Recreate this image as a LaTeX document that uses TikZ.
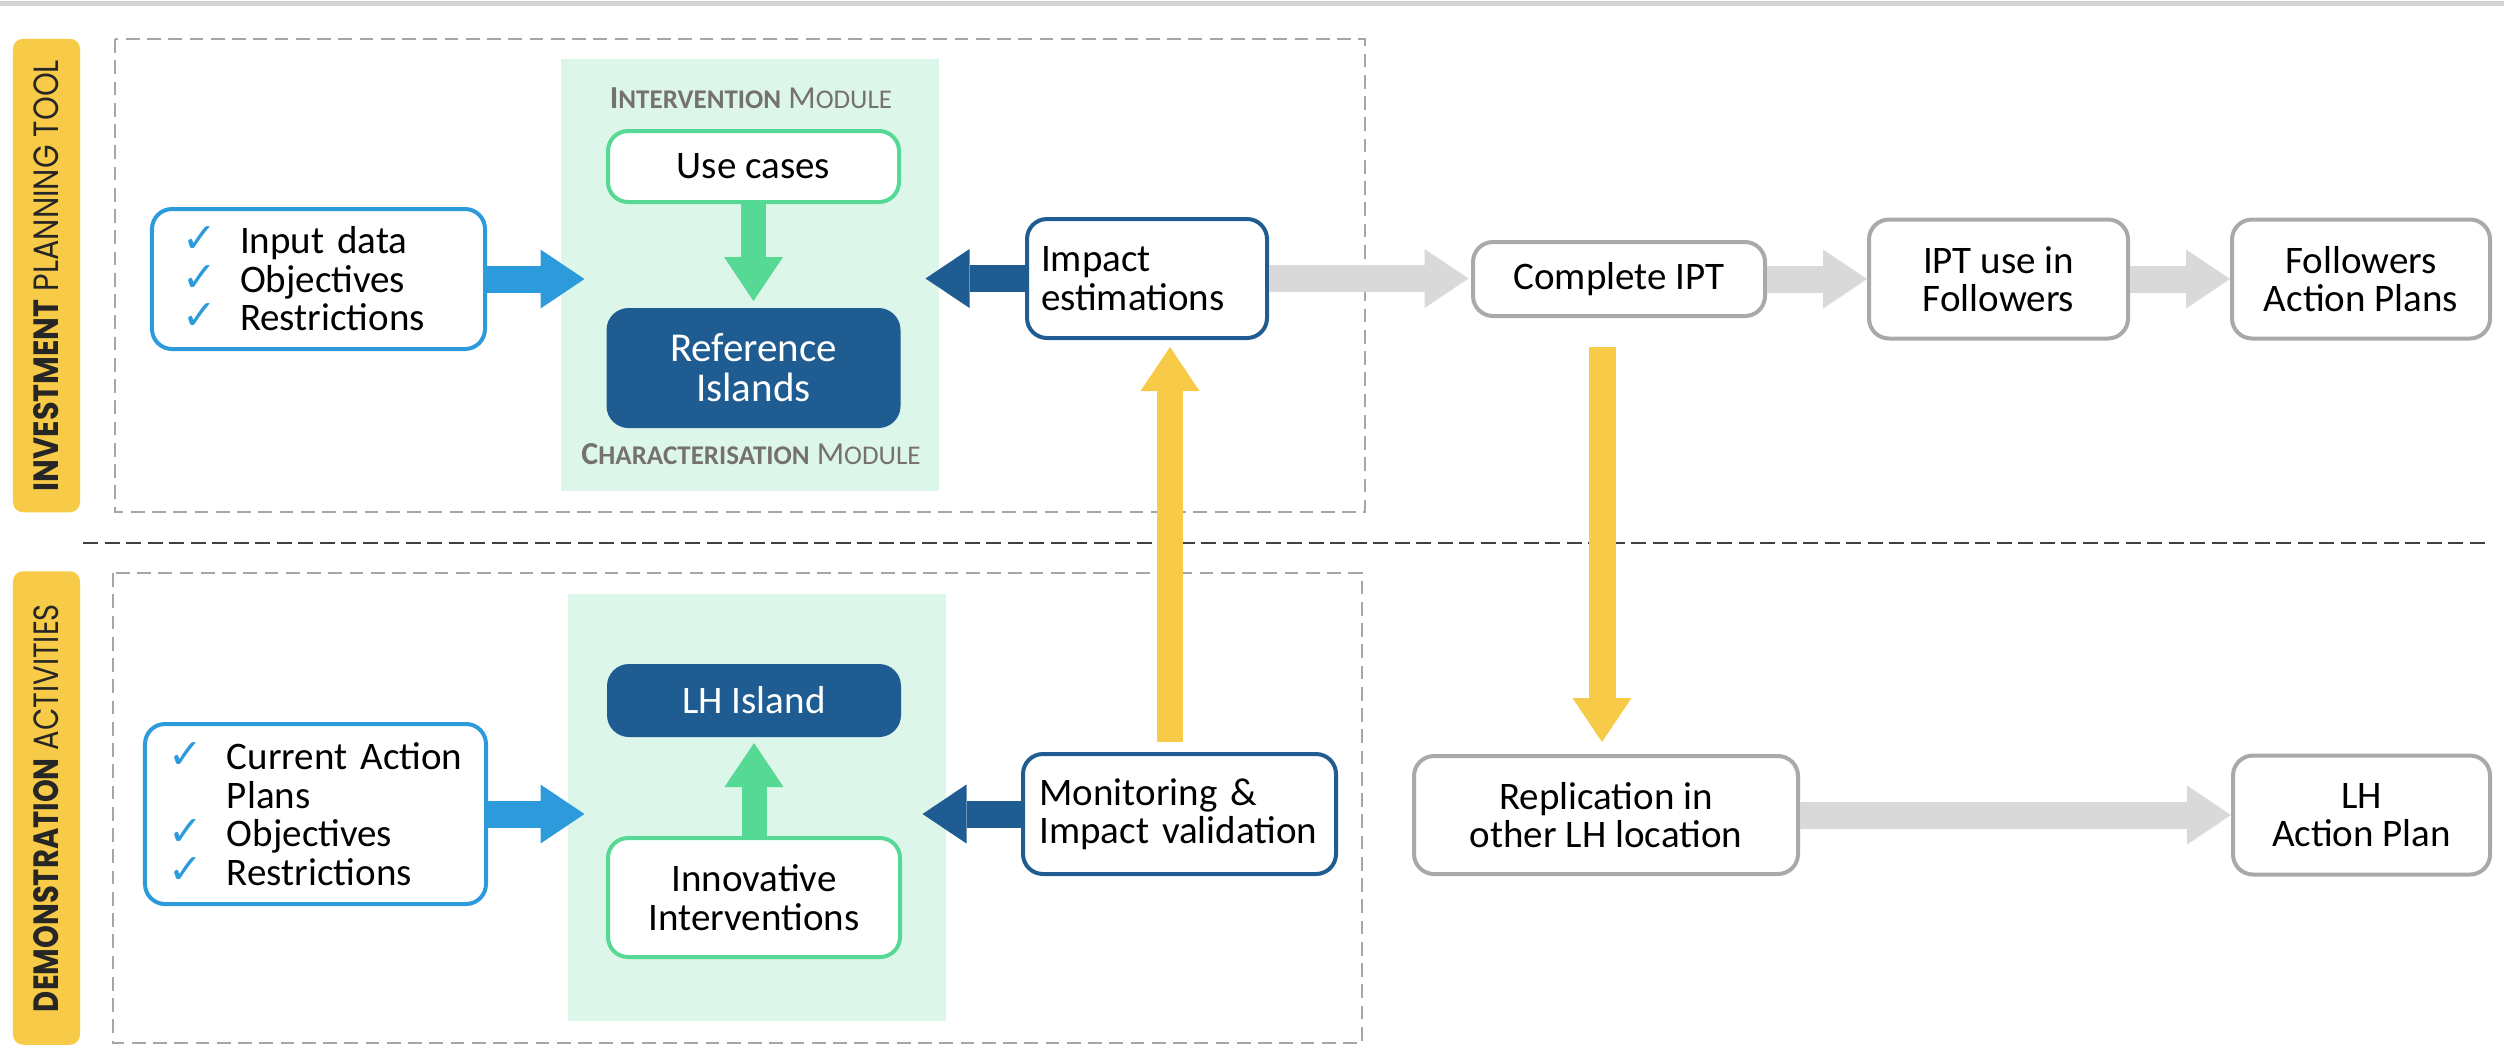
\documentclass[tikz,border=0pt]{standalone}
\usepackage{fontspec}
\usepackage{graphicx}
\setmainfont{Carlito}
\newfontfamily\labelfont{Poppins}
\newfontfamily\checkfont{DejaVu Sans}
\usetikzlibrary{arrows.meta}

\definecolor{labelyellow}{HTML}{F7CB48}
\definecolor{panelgreen}{HTML}{DDF6EA}
\definecolor{boxgreen}{HTML}{55D995}
\definecolor{darkblue}{HTML}{1F5C91}
\definecolor{lightblue}{HTML}{2C9ADB}
\definecolor{arrowgray}{HTML}{D9D9D9}
\definecolor{boxgray}{HTML}{A9A9A9}
\definecolor{dashgray}{HTML}{A6A6A6}
\definecolor{modulegray}{HTML}{767171}
\definecolor{labeltext}{HTML}{262626}

\newcommand\mainsize{\fontsize{15.6pt}{15.4pt}\selectfont}
\newcommand\chk{\makebox[23.2pt][l]{\raisebox{0.5pt}{\checkfont\fontsize{16.5pt}{15pt}\selectfont\textcolor{lightblue}{✓}}}}
\newcommand\fakesc[2]{#1{\fontsize{10.8pt}{12pt}\selectfont #2}}

\begin{document}
\begin{tikzpicture}[x=0.4pt, y=-0.4pt,
    plain box/.style={rounded corners=8pt, line width=1.6pt, fill=white, align=center,
                      inner sep=0pt, font=\mainsize},
    list box/.style={plain box, draw=lightblue, align=left},
    use box/.style={plain box, draw=boxgreen, minimum width=116.4pt},
    island box/.style={plain box, draw=darkblue, fill=darkblue, text=white, minimum width=116pt},
    impact box/.style={plain box, draw=darkblue, align=left, minimum height=47.6pt},
    grey box/.style={plain box, draw=boxgray, minimum height=47.6pt},
    side label/.style={rounded corners=4pt, fill=labelyellow, rotate=90, minimum width=189.4pt,
                       minimum height=26.8pt, inner sep=0pt, text=labeltext},
    module panel/.style={fill=panelgreen, inner sep=0pt, minimum width=151.2pt},
    module text/.style={text=modulegray, inner sep=0pt, font=\fontsize{12.8pt}{14pt}\selectfont},
    dash frame/.style={draw=dashgray, line width=0.8pt, dash pattern=on 5.5pt off 3pt},
    fat arrow/.style={line width=10.8pt, -{Triangle[length=17.6pt, width=23.6pt, line width=0pt]}}]

    \useasboundingbox (0,0) rectangle (2504,1048);
    \draw[draw=black!17, line width=1.8pt] (0,3.5) -- (2504,3.5);

    % rows
    \node[side label] (ipt label)  at (46.5,275.5)
        {\resizebox{172.4pt}{10pt}{\labelfont\textbf{INVESTMENT} PLANNING TOOL}};
    \node[side label] (demo label) at (46.5,808)
        {\resizebox{163.2pt}{10pt}{\labelfont\textbf{DEMONSTRATION} ACTIVITIES}};
    \draw[dash frame] (115,39) rectangle (1365,512);
    \draw[dash frame] (113,573) rectangle (1362,1043);
    \draw[draw=black!75, line width=0.8pt, dash pattern=on 6pt off 2.6pt] (83,543) -- (2488,543);

    % modules
    \node[module panel, minimum height=172.8pt] (char panel) at (750,275) {};
    \node[module panel, minimum height=170.8pt] (demo panel) at (757,807.5) {};
    \node[module text] (int title)  at (751,98)
        {{\bfseries\fakesc{I}{NTERVENTION}} \fakesc{M}{ODULE}};
    \node[module text] (char title) at (751,454)
        {{\bfseries\fakesc{C}{HARACTERISATION}} \fakesc{M}{ODULE}};

    \node[use box, minimum height=28.4pt] (use cases) at (753.5,166.5) {Use cases};
    \node[island box, minimum height=46.4pt, font=\fontsize{16.4pt}{16pt}\selectfont]
        (ref islands) [below of=use cases, node distance=80.6pt] {Reference\\Islands};
    \node[island box, minimum height=27.6pt] (lh island) at (754,700.5) {LH Island};
    \node[use box, minimum width=116.8pt, minimum height=47.6pt]
        (innovative) [below of=lh island, node distance=78.8pt] {Innovative\\Interventions};

    % inputs
    \node[list box, inner xsep=12pt, text width=109.2pt, minimum height=56pt]
        (inputs) at (318.5,279) {\chk Input data\\\chk Objectives\\\chk Restrictions};
    \node[list box, inner xsep=9.6pt, text width=117.2pt, minimum height=72pt]
        (current plans) at (315.5,814)
        {\chk\mbox{Current Action}\\\hspace*{23.2pt}Plans\\\chk Objectives\\\chk Restrictions};

    \node[impact box, inner xsep=5.6pt, text width=84.8pt] (impact) at (1147,278.5)
        {Impact\\estimations};
    \node[impact box, inner xsep=6.6pt, text width=112pt, minimum height=48pt]
        (monitoring) at (1179.5,814) {\mbox{Monitoring \&}\\\mbox{Impact validation}};

    % follow-up
    \node[grey box, minimum width=116.8pt, minimum height=29.6pt] (complete ipt) at (1619,279)
        {Complete IPT};
    \node[grey box, minimum width=103.6pt] (ipt use) [right of=complete ipt, node distance=151.8pt]
        {IPT use in\\Followers};
    \node[grey box, minimum width=103.2pt] (followers plans) [right of=ipt use, node distance=145pt]
        {Followers\\Action Plans};
    \node[grey box, minimum width=153.6pt, minimum height=47.2pt] (replication) at (1606,815)
        {Replication in\\other LH location};
    \node[grey box, minimum width=102.8pt] (lh plan) [right of=replication, node distance=302.2pt]
        {LH\\Action Plan};

    \draw[fat arrow, lightblue] (inputs.east) -- ([xshift=9.6pt]inputs.east -| char panel.west);
    \draw[fat arrow, darkblue] (impact.west) -- ([xshift=-5.6pt]impact.west -| char panel.east);
    \draw[fat arrow, boxgreen, line width=10pt, shorten >=2.8pt] (use cases.south) -- (ref islands.north);
    \draw[fat arrow, lightblue] (current plans.east) -- ([xshift=6.8pt]current plans.east -| demo panel.west);
    \draw[fat arrow, darkblue] (monitoring.west) -- ([xshift=-9.6pt]monitoring.west -| demo panel.east);
    \draw[fat arrow, boxgreen, line width=10pt, shorten >=2.4pt] (innovative.north) -- (lh island.south);

    \draw[fat arrow, arrowgray, shorten >=1pt] (impact.east) -- (impact.east -| complete ipt.west);
    \draw[fat arrow, arrowgray] (complete ipt.east) -- (ipt use.west);
    \draw[fat arrow, arrowgray] (ipt use.east) -- (followers plans.west);
    \draw[fat arrow, arrowgray] (replication.east) -- (lh plan.west);

    \draw[fat arrow, labelyellow, line width=10.4pt, shorten <=4pt, shorten >=2.8pt]
        ([xshift=-3.8pt]monitoring.north) -- ([xshift=-3.8pt]monitoring.north |- impact.south);
    \draw[fat arrow, labelyellow, shorten <=11.6pt, shorten >=4.8pt]
        ([xshift=-6.8pt]complete ipt.south) -- ([xshift=-6.8pt]complete ipt.south |- replication.north);
\end{tikzpicture}
\end{document}
